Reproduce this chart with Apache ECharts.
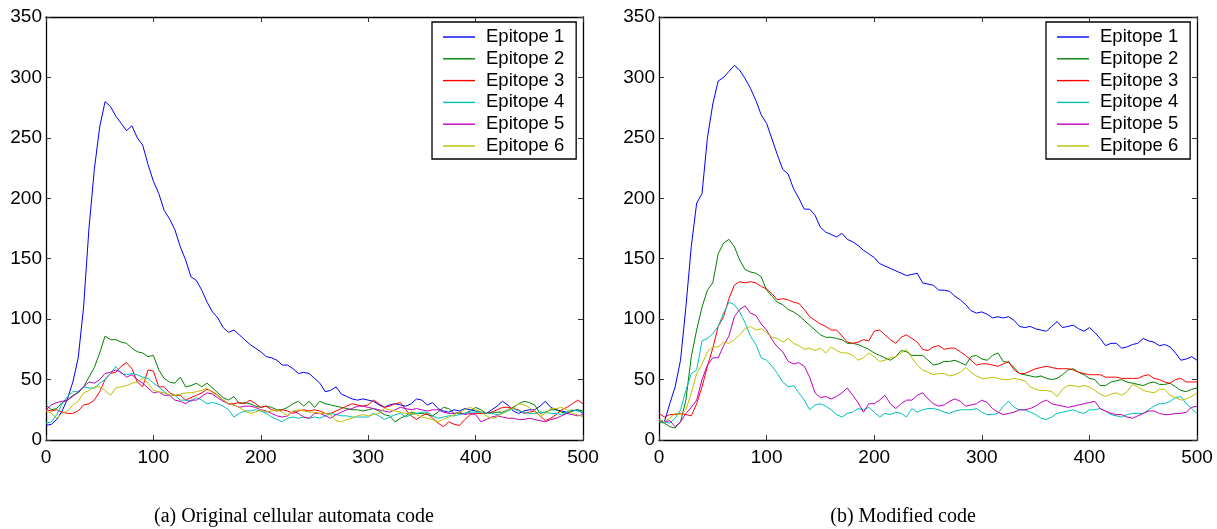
<!DOCTYPE html>
<html>
<head>
<meta charset="utf-8">
<script src="https://cdn.jsdelivr.net/npm/echarts@6/dist/echarts.min.js"></script>
<style>
html, body { margin: 0; padding: 0; background: #fff; }
#chart { width: 1217px; height: 529px; }
</style>
</head>
<body>
<div id="chart"></div>
<script>
// time steps 0..500, one sample every 5 steps
var steps = [];
for (var i = 0; i <= 100; i++) { steps.push(i * 5); }

var names = ['Epitope 1', 'Epitope 2', 'Epitope 3', 'Epitope 4', 'Epitope 5', 'Epitope 6'];
var colors = ['#0000ff', '#008000', '#ff0000', '#00bfbf', '#bf00bf', '#bfbf00'];
var xTicks = [0, 100, 200, 300, 400, 500];
var yTicks = [0, 50, 100, 150, 200, 250, 300, 350];
var captions = ['(a) Original cellular automata code', '(b) Modified code'];

// (a) original code
var a1 = [12,13,17,24,34,48,68,110,175,224,
  259,280,276,268,262,256,260,250,244,228,
  214,204,190,183,174,160,149,135,132,124,
  114,106,101,93,89,91,87,83,79,76,
  73,69,68,66,62,62,59,55,56,55,
  51,47,40,41,44,38,36,34,33,34,
  33,32,29,27,29,30,29,28,30,34,
  33,29,31,26,24,23,25,24,26,25,
  24,23,22,25,28,32,29,24,22,24,
  25,25,28,32,27,25,24,23,24,25,
  22];
var a2 = [29,25,26,31,33,37,39,44,52,60,
  72,86,83,83,81,80,76,73,72,69,
  70,58,51,48,47,52,44,45,47,44,
  47,43,39,35,33,36,30,31,30,28,
  27,28,27,25,25,27,30,32,28,32,
  27,32,30,29,28,27,26,25,25,24,
  25,26,24,21,20,15,18,20,23,22,
  22,21,20,23,27,26,22,22,22,24,
  27,25,22,23,23,23,25,27,30,32,
  31,29,22,23,25,25,23,22,24,25,
  24];
var a3 = [25,24,25,23,22,22,24,29,30,33,
  40,50,55,56,61,64,59,48,44,58,
  57,44,44,39,37,37,33,35,37,39,
  42,40,37,33,30,30,31,30,33,30,
  27,28,25,24,25,24,22,24,25,24,
  25,24,22,22,24,26,28,30,29,28,
  29,33,30,27,28,30,31,25,20,17,
  20,22,18,14,11,15,13,12,17,21,
  22,22,22,23,25,27,27,26,25,22,
  23,24,20,16,18,21,25,27,30,33,
  30];
var a4 = [14,15,21,30,36,40,40,44,43,43,
  47,50,55,61,55,54,55,54,52,51,
  47,44,40,37,37,33,33,32,35,33,
  30,31,30,28,25,19,22,24,24,25,
  24,22,19,17,15,18,19,18,19,18,
  19,18,20,22,21,20,20,19,19,19,
  19,22,20,17,19,21,22,19,21,22,
  23,23,20,18,19,20,20,21,22,23,
  23,23,22,22,21,22,24,26,24,23,
  22,22,23,23,22,22,21,23,25,24,
  23];
var a5 = [25,29,31,32,33,36,40,44,48,47,
  50,55,56,58,56,52,54,50,47,43,
  39,40,37,37,33,32,30,33,33,36,
  39,38,35,32,30,29,27,28,28,27,
  25,24,22,20,19,20,24,22,19,18,
  22,22,20,18,21,23,25,26,28,28,
  27,26,25,24,23,25,27,26,25,26,
  25,24,25,25,23,22,22,23,21,22,
  21,15,17,19,20,19,18,18,17,17,
  18,17,16,15,17,18,20,22,21,20,
  21];
var a6 = [24,22,18,22,24,29,32,39,41,44,
  44,41,37,43,44,45,47,48,51,47,
  41,40,39,37,37,38,39,39,40,41,
  43,39,37,33,30,29,27,24,22,23,
  25,23,24,25,23,20,24,25,24,23,
  23,22,22,21,16,15,17,18,20,21,
  20,21,22,26,25,24,23,22,22,21,
  19,18,17,15,17,19,21,23,25,27,
  25,23,20,18,19,22,25,26,30,29,
  27,23,20,22,26,26,27,25,22,21,
  19];

// (b) modified code
var b1 = [16,15,30,44,66,110,160,196,204,250,
  278,297,300,305,310,306,299,291,281,269,
  262,249,236,224,220,208,200,191,191,186,
  176,172,170,168,171,166,164,161,157,154,
  151,146,144,142,140,138,136,137,138,130,
  129,128,124,124,123,119,116,112,107,105,
  106,104,101,102,101,102,99,94,93,94,
  92,91,90,94,98,93,94,95,92,90,
  93,89,84,78,80,80,76,77,79,80,
  84,82,81,78,79,77,72,66,67,69,
  66];
var b2 = [15,14,11,10,15,33,69,91,110,124,
  130,154,163,166,160,149,141,139,138,135,
  124,119,114,112,108,106,103,99,95,91,
  87,85,85,84,83,80,80,79,77,75,
  72,70,68,66,69,74,73,70,70,70,
  66,62,63,65,65,66,64,62,69,70,
  67,66,70,72,65,64,60,55,54,53,
  52,53,51,50,51,54,58,59,56,54,
  51,50,45,45,48,49,50,48,47,46,
  45,47,48,46,46,47,44,41,40,42,
  43];
var b3 = [22,19,21,21,22,21,20,30,44,61,
  76,94,102,117,128,131,130,131,130,127,
  125,121,116,117,116,114,113,108,102,99,
  96,94,91,91,86,81,80,81,83,82,
  90,91,87,83,80,85,87,84,81,75,
  74,77,78,75,76,76,73,70,66,62,
  63,63,62,61,63,65,58,55,55,57,
  59,60,61,60,59,59,59,58,56,55,
  54,54,54,52,52,52,51,51,51,51,
  53,54,51,50,48,47,50,51,48,48,
  48];
var b4 = [15,15,14,18,25,41,55,58,82,84,
  88,94,105,114,112,106,97,86,79,68,
  66,61,55,48,44,45,39,33,25,29,
  30,28,25,21,19,22,23,26,25,27,
  23,19,22,21,23,22,19,26,23,25,
  26,26,25,23,22,24,25,25,25,26,
  23,21,21,22,28,32,27,25,25,23,
  21,18,17,19,22,23,24,25,23,22,
  25,25,26,24,21,20,19,21,22,22,
  22,25,28,30,30,32,35,36,30,26,
  22];
var b5 = [17,15,16,11,15,22,27,33,50,62,
  68,68,78,86,102,108,111,105,103,96,
  91,83,77,73,65,63,64,61,52,39,
  35,36,34,36,39,43,37,31,23,30,
  30,33,37,30,26,30,33,33,37,39,
  34,30,28,29,32,34,32,28,29,30,
  33,31,26,23,21,22,23,25,25,26,
  28,31,33,30,29,28,27,28,29,30,
  31,32,26,24,22,21,21,19,18,20,
  22,24,24,22,21,21,22,22,23,27,
  28];
var b6 = [17,15,18,22,21,25,39,55,63,73,
  77,77,81,80,83,87,92,94,91,92,
  89,85,84,81,84,80,78,75,76,74,
  76,72,77,74,72,72,70,66,68,72,
  69,65,66,68,69,72,75,68,62,58,
  56,54,55,55,53,54,56,60,56,53,
  51,51,52,51,50,50,51,50,49,44,
  42,41,41,40,36,42,45,45,44,45,
  44,41,38,36,38,39,37,40,46,44,
  41,40,39,42,42,37,35,33,34,36,
  39];

var panelA = [a1, a2, a3, a4, a5, a6];
var panelB = [b1, b2, b3, b4, b5, b6];

var myChart = echarts.init(document.getElementById('chart'), null, {renderer: 'canvas'});

function pairs(vals) {
    var out = [];
    for (var k = 0; k < vals.length; k++) { out.push([steps[k], vals[k]]); }
    return out;
}

var fontSans = 'Liberation Sans, Arial, Helvetica, sans-serif';

function mainAxis(gridIndex, pos, ticks, showLabel) {
    return {
        type: 'value',
        gridIndex: gridIndex,
        position: pos,
        min: ticks[0],
        max: ticks[ticks.length - 1],
        interval: ticks[1] - ticks[0],
        axisLine: {show: true, onZero: false, lineStyle: {color: '#000', width: 1.3}},
        axisTick: {show: true, inside: true, length: 5, lineStyle: {color: '#333', width: 1}},
        splitLine: {show: false},
        axisLabel: {
            show: showLabel,
            color: '#000',
            fontFamily: fontSans,
            fontSize: 19,
            margin: (pos === 'bottom' ? 8 : 4)
        }
    };
}

var grids = [
    {left: 46, top: 17, width: 537, height: 423},
    {left: 659, top: 17, width: 538, height: 423}
];

var xAxes = [], yAxes = [], series = [];
for (var g = 0; g < 2; g++) {
    xAxes.push(mainAxis(g, 'bottom', xTicks, true));
    xAxes.push(mainAxis(g, 'top', xTicks, false));
    yAxes.push(mainAxis(g, 'left', yTicks, true));
    yAxes.push(mainAxis(g, 'right', yTicks, false));
    var panel = (g === 0 ? panelA : panelB);
    for (var s = 0; s < panel.length; s++) {
        series.push({
            name: names[s],
            type: 'line',
            xAxisIndex: g * 2,
            yAxisIndex: g * 2,
            data: pairs(panel[s]),
            symbol: 'none',
            showSymbol: false,
            color: colors[s],
            lineStyle: {width: 1, color: colors[s]},
            emphasis: {disabled: true}
        });
    }
}

function legendAt(left) {
    return {
        data: names,
        orient: 'vertical',
        left: left,
        top: 22,
        icon: 'rect',
        itemWidth: 32,
        itemHeight: 1.4,
        itemGap: 1.8,
        padding: [5, 12, 3, 11],
        borderColor: '#000',
        borderWidth: 1.3,
        backgroundColor: '#fff',
        selectedMode: false,
        textStyle: {
            color: '#000',
            fontFamily: fontSans,
            fontSize: 18.5,
            lineHeight: 20,
            padding: [0, 0, 0, 6]
        }
    };
}

var option = {
    animation: false,
    backgroundColor: '#fff',
    grid: grids,
    xAxis: xAxes,
    yAxis: yAxes,
    legend: [legendAt(432), legendAt(1046)],
    series: series,
    graphic: [
        {type: 'text', x: 294, y: 517, style: {text: captions[0], fill: '#000', font: '20px "Liberation Serif", "Times New Roman", serif', textAlign: 'center', textVerticalAlign: 'middle'}},
        {type: 'text', x: 903, y: 517, style: {text: captions[1], fill: '#000', font: '20px "Liberation Serif", "Times New Roman", serif', textAlign: 'center', textVerticalAlign: 'middle'}}
    ]
};

myChart.setOption(option);
</script>
</body>
</html>
